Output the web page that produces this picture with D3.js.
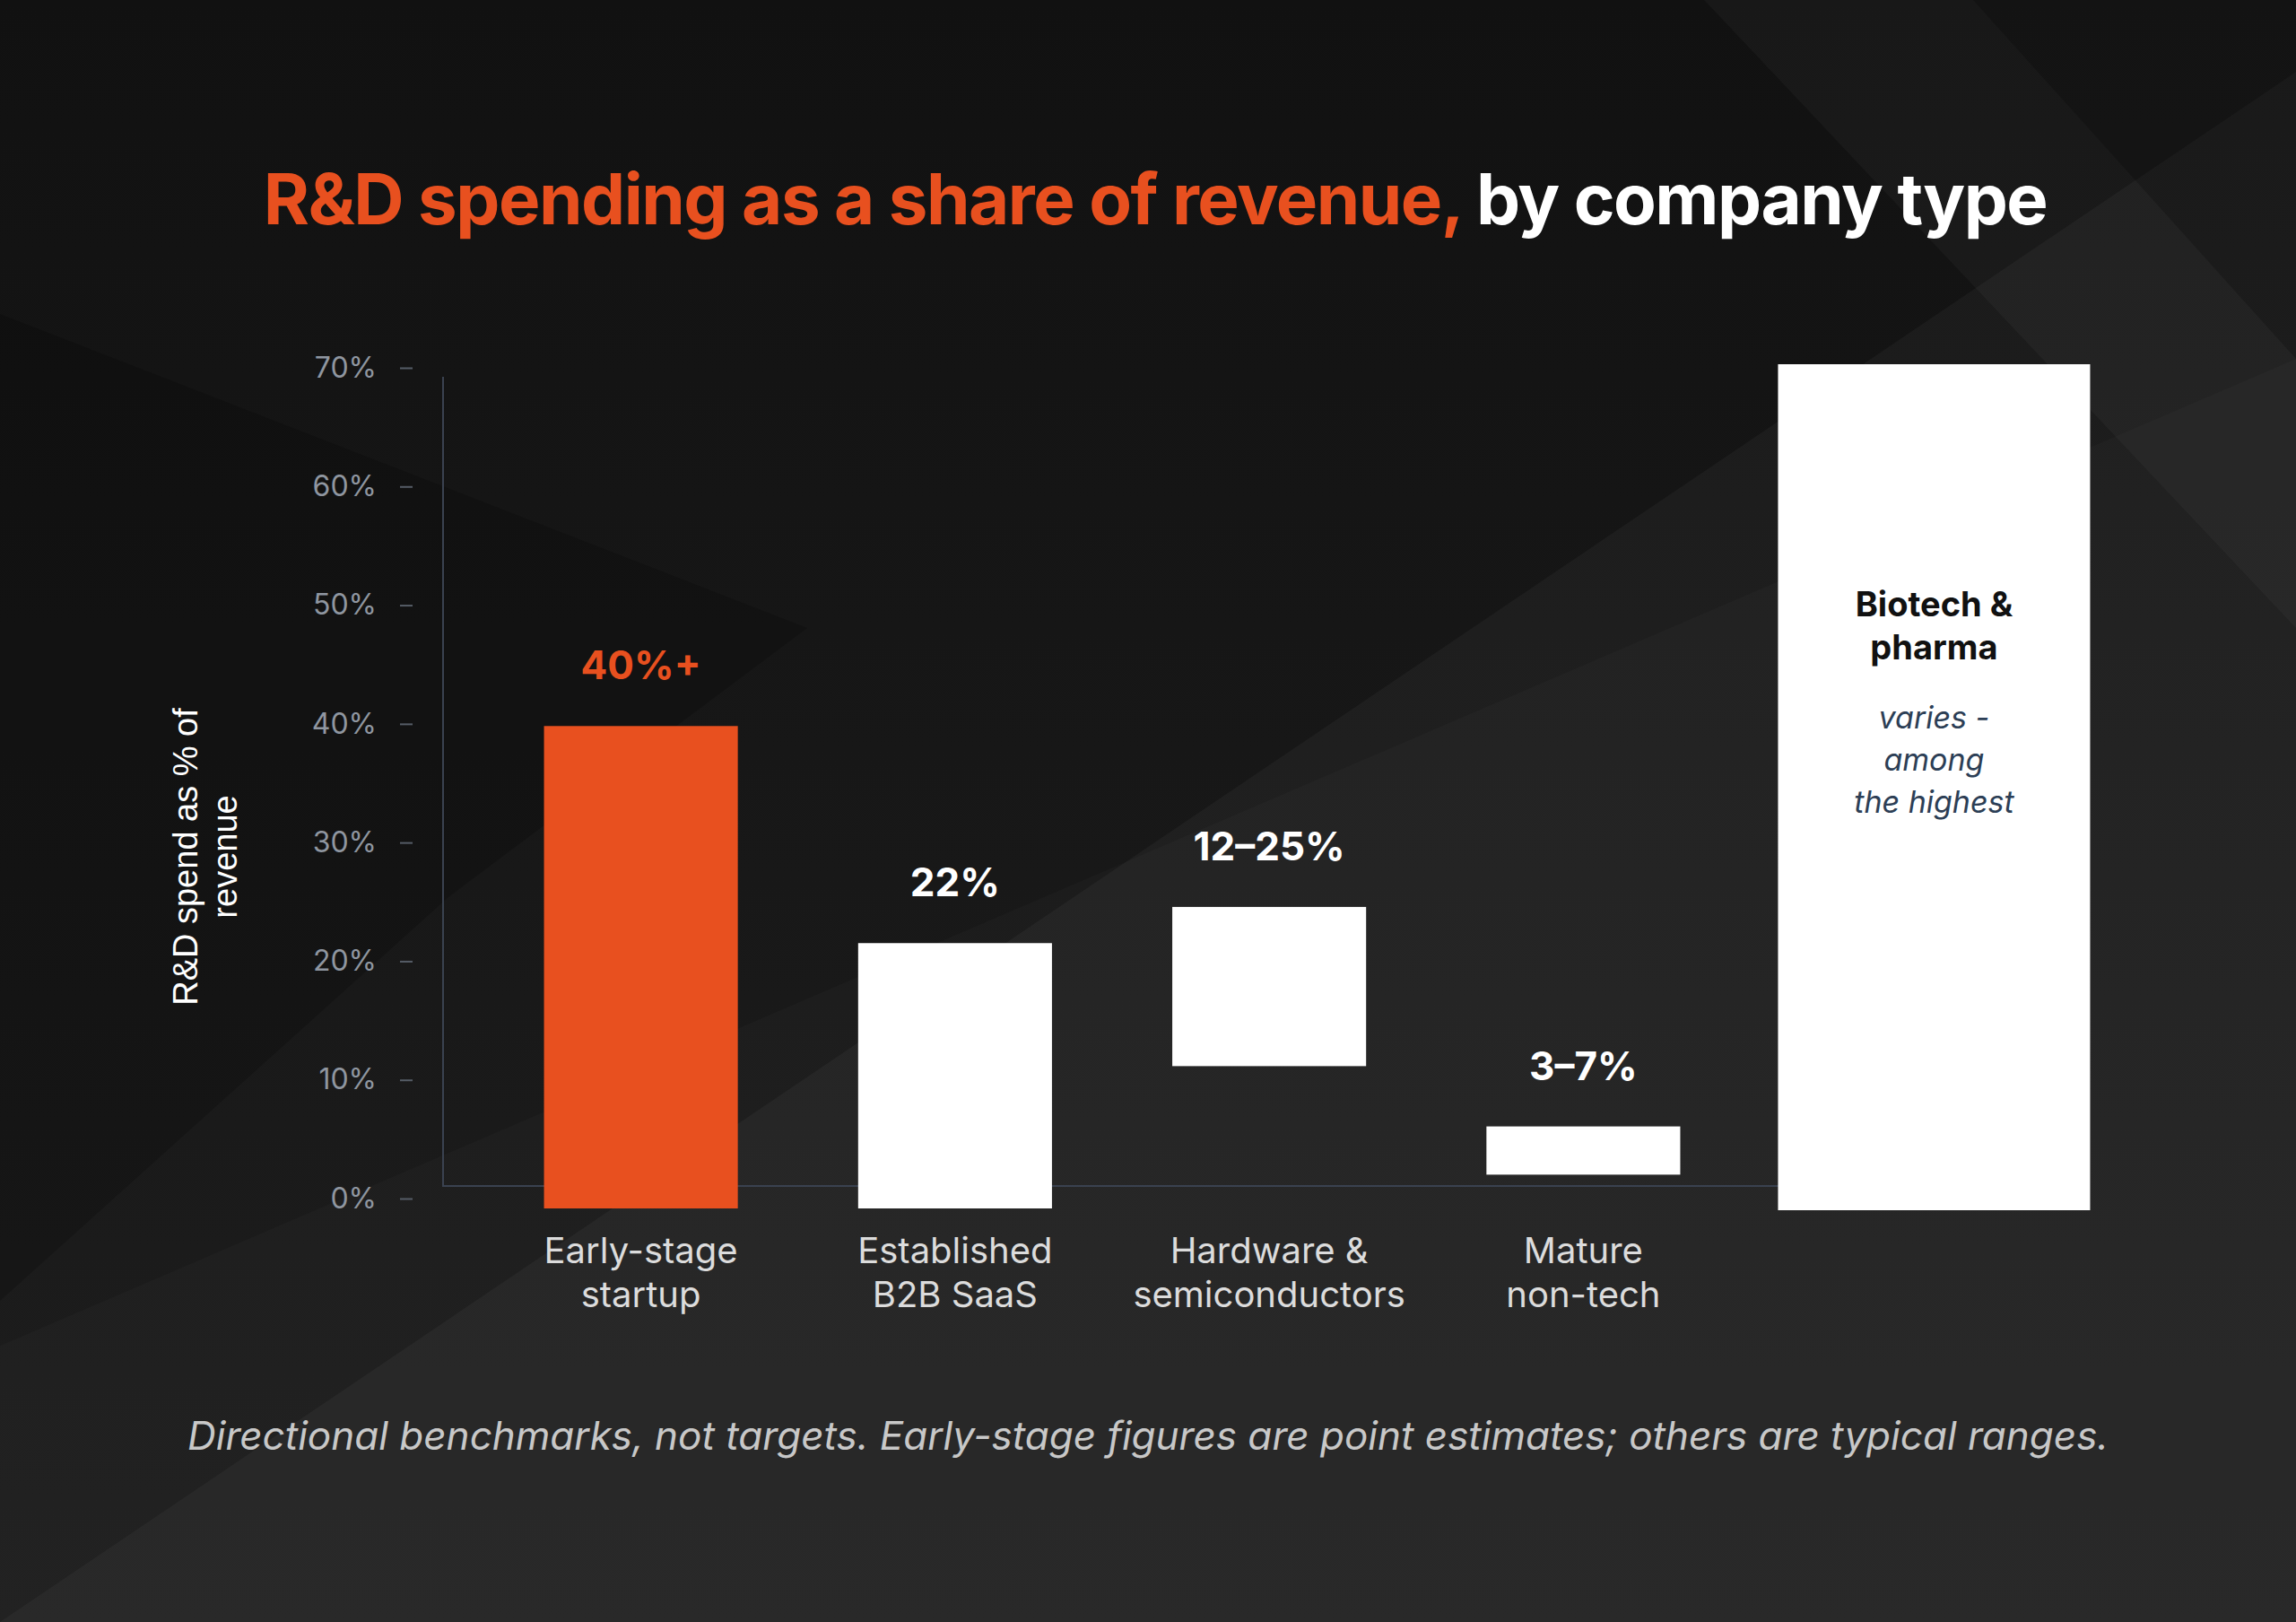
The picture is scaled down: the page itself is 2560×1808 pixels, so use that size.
<!DOCTYPE html>
<html>
<head>
<meta charset="utf-8">
<style>
  body { margin: 0; background: #141414; }
  svg { display: block; }
  .tick-label { font-family: Inter, sans-serif; font-size: 32px; fill: #8f96a0; }
  .cat { font-family: Inter, sans-serif; font-size: 40px; fill: #dcdcdc; }
  .val { font-family: Inter, sans-serif; font-size: 44px; font-weight: 700; fill: #fff; }
</style>
</head>
<body>
<svg width="2560" height="1808"></svg>
<script src="https://d3js.org/d3.v7.min.js"></script>
<script>
  // data
  let categories = ["Early-stage startup", "Established B2B SaaS", "Hardware & semiconductors", "Mature non-tech"]
  let catLines = [["Early-stage", "startup"], ["Established", "B2B SaaS"], ["Hardware &", "semiconductors"], ["Mature", "non-tech"]]
  let lows = [0, 0, 11.8, 2.8]
  let highs = [40, 22, 25, 6.8]
  let valueLabels = ["40%+", "22%", "12–25%", "3–7%"]
  let yTicks = [0, 10, 20, 30, 40, 50, 60, 70]
  let biotechRange = [0, 70]

  let svg = d3.select("svg")

  // background
  let bg = svg.append("defs").append("linearGradient").attr("id", "bg")
    .attr("x1", 0).attr("y1", 0).attr("x2", 0).attr("y2", 1)
  bg.append("stop").attr("offset", "0%").attr("stop-color", "#111")
  bg.append("stop").attr("offset", "100%").attr("stop-color", "#1e1e1e")
  svg.append("rect").attr("width", 2560).attr("height", 1808).attr("fill", "url(#bg)")
  let shapes = [
    [[0, 1808], [2560, 80], [2560, 1808]],
    [[0, 1500], [2560, 400], [2560, 1808], [0, 1808]],
    [[1900, 0], [2560, 0], [2560, 700]],
    [[0, 350], [900, 700], [500, 1000], [0, 1450]],
    [[2200, 0], [2560, 400], [2560, 0]]
  ]
  let fills = ["rgba(255,255,255,0.035)", "rgba(255,255,255,0.02)", "rgba(255,255,255,0.03)", "rgba(0,0,0,0.18)", "rgba(0,0,0,0.2)"]
  svg.append("g").selectAll("path").data(shapes).join("path")
    .attr("d", d => "M" + d.join("L") + "Z")
    .attr("fill", (d, i) => fills[i])

  // title
  let title = svg.append("text").attr("x", 1288).attr("y", 250).attr("text-anchor", "middle")
    .style("font-family", "Inter, sans-serif").style("font-size", "78px").style("font-weight", 700)
    .style("letter-spacing", "-1.5px")
  title.append("tspan").attr("fill", "#e8501f").text("R&D spending as a share of revenue, ")
  title.append("tspan").attr("fill", "#fff").text("by company type")

  // scales
  let x = d3.scaleBand().domain(categories).range([540, 1940]).paddingInner(0.383).paddingOuter(0.19)
  let y = d3.scaleLinear().domain([0, 70]).range([1347, 406])
  let yTick = d3.scaleLinear().domain([0, 70]).range([1336, 410])

  // frame
  svg.append("path").attr("d", "M494,420V1322H1985").attr("fill", "none")
    .attr("stroke", "#3a4250").attr("stroke-width", 2)

  let yAxis = svg.append("g").attr("transform", "translate(460,0)")
    .call(d3.axisLeft(yTick).tickValues(yTicks).tickSize(14).tickPadding(26).tickFormat(d => d + "%"))
  yAxis.select(".domain").remove()
  yAxis.selectAll(".tick line").attr("stroke", "#555c66").attr("stroke-width", 2)
  yAxis.selectAll(".tick text").attr("class", "tick-label").attr("fill", null)

  // y title
  let yt = svg.append("text").attr("transform", "translate(224,955) rotate(-90)")
    .attr("text-anchor", "middle").style("font-family", "'Liberation Sans', Arial, sans-serif")
    .style("font-size", "38px").attr("fill", "#fff")
  yt.append("tspan").attr("x", 0).attr("dy", "-0.1em").text("R&D spend as % of")
  yt.append("tspan").attr("x", 0).attr("dy", "1.15em").text("revenue")

  // bars
  svg.append("g").selectAll("rect").data(categories).join("rect")
    .attr("x", d => x(d)).attr("width", x.bandwidth())
    .attr("y", (d, i) => y(highs[i]))
    .attr("height", (d, i) => y(lows[i]) - y(highs[i]))
    .attr("fill", (d, i) => i === 0 ? "#e8501f" : "#fff")

  svg.append("g").selectAll("text").data(categories).join("text")
    .attr("class", "val").attr("text-anchor", "middle")
    .attr("x", d => x(d) + x.bandwidth() / 2)
    .attr("y", (d, i) => y(highs[i]) - 52)
    .style("fill", (d, i) => i === 0 ? "#e8501f" : "#fff")
    .text((d, i) => valueLabels[i])

  let cl = svg.append("g").selectAll("text").data(categories).join("text")
    .attr("class", "cat").attr("text-anchor", "middle")
    .attr("x", d => x(d) + x.bandwidth() / 2).attr("y", 1408)
  cl.selectAll("tspan").data((d, i) => catLines[i]).join("tspan")
    .attr("x", function () { return d3.select(this.parentNode).attr("x") })
    .attr("dy", (d, j) => j === 0 ? 0 : 49).text(d => d)

  // biotech panel
  let bx0 = x(categories[3]) + x.bandwidth() + 109
  let bw = 348
  svg.append("rect").attr("x", bx0).attr("width", bw)
    .attr("y", y(biotechRange[1])).attr("height", y(biotechRange[0]) + 2 - y(biotechRange[1]))
    .attr("fill", "#fff")
  let bc = bx0 + bw / 2
  let bt = svg.append("text").attr("text-anchor", "middle").style("font-family", "Inter, sans-serif")
    .style("font-size", "38px").style("font-weight", 700).attr("fill", "#111")
  bt.append("tspan").attr("x", bc).attr("y", 687).text("Biotech &")
  bt.append("tspan").attr("x", bc).attr("y", 735).text("pharma")
  let bi = svg.append("text").attr("text-anchor", "middle").style("font-family", "Inter, sans-serif")
    .style("font-size", "34px").style("font-style", "italic").attr("fill", "#2c3e55")
  ;["varies -", "among", "the highest"].forEach((t, i) =>
    bi.append("tspan").attr("x", bc).attr("y", 812 + i * 47).text(t))

  // footnote
  svg.append("text").attr("x", 1280).attr("y", 1616).attr("text-anchor", "middle")
    .style("font-family", "Inter, sans-serif").style("font-size", "44px").style("font-style", "italic")
    .attr("fill", "#c8c8c8")
    .text("Directional benchmarks, not targets. Early-stage figures are point estimates; others are typical ranges.")
</script>
</body>
</html>
